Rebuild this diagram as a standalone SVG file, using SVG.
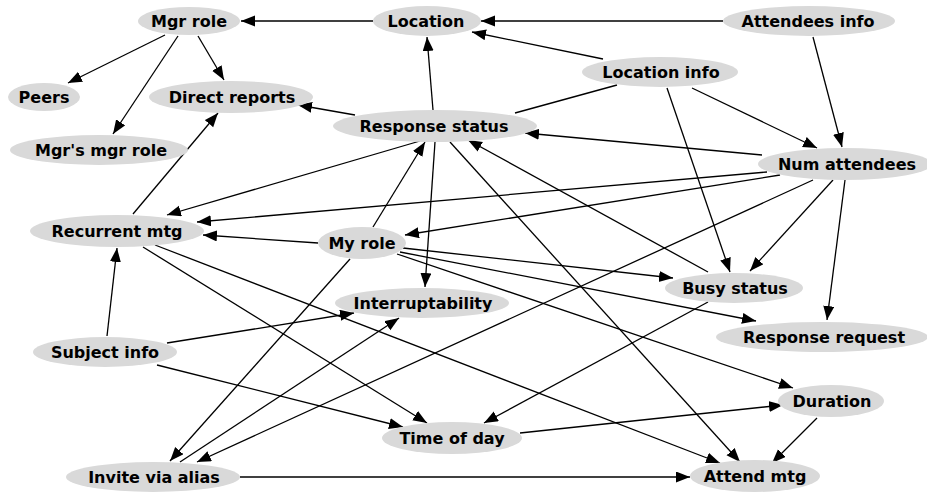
<svg xmlns="http://www.w3.org/2000/svg" width="927" height="493" viewBox="0 0 927 493">
<style>
.n ellipse{fill:#d9d9d9;stroke:none}
.n text{font-family:"DejaVu Sans",sans-serif;font-weight:bold;font-size:16px;fill:#000;text-anchor:middle}
.e line{stroke:#000;stroke-width:1.3;marker-end:url(#a)}
.e line.p{marker-end:none}
</style>
<defs>
<marker id="a" markerUnits="userSpaceOnUse" markerWidth="15" markerHeight="12" refX="14" refY="5.5" orient="auto">
<path d="M0,0 L14,5.5 L0,11 z" fill="#000"/>
</marker>
</defs>
<rect width="927" height="493" fill="#fff"/>
<g id="edges" class="e">
<line x1="373" y1="21" x2="241" y2="21"/>
<line x1="723" y1="21" x2="481" y2="21"/>
<line x1="603" y1="59" x2="472" y2="32"/>
<line x1="165" y1="35" x2="68" y2="83"/>
<line x1="178" y1="36" x2="113" y2="134"/>
<line x1="198" y1="36" x2="224" y2="80"/>
<line x1="355" y1="115" x2="298" y2="105"/>
<line x1="433" y1="110" x2="427" y2="37"/>
<line x1="133" y1="214" x2="218" y2="113"/>
<line class="p" x1="617" y1="85" x2="515" y2="113"/>
<line x1="692" y1="88" x2="817" y2="148"/>
<line x1="813" y1="37" x2="842" y2="147"/>
<line x1="667" y1="88" x2="730" y2="272"/>
<line x1="762" y1="155" x2="525" y2="133"/>
<line x1="708" y1="272" x2="468" y2="140"/>
<line x1="450" y1="142" x2="740" y2="462"/>
<line x1="435" y1="142" x2="425" y2="287"/>
<line x1="420" y1="141" x2="167" y2="215"/>
<line x1="767" y1="172" x2="197" y2="222"/>
<line x1="780" y1="175" x2="405" y2="235"/>
<line x1="373" y1="227" x2="425" y2="142"/>
<line x1="350" y1="259" x2="170" y2="461"/>
<line x1="180" y1="462" x2="399" y2="318"/>
<line x1="813" y1="180" x2="197" y2="462"/>
<line x1="833" y1="180" x2="750" y2="271"/>
<line x1="845" y1="180" x2="827" y2="320"/>
<line x1="318" y1="243" x2="203" y2="235"/>
<line x1="403" y1="248" x2="673" y2="278"/>
<line x1="400" y1="252" x2="756" y2="321"/>
<line x1="397" y1="254" x2="793" y2="388"/>
<line x1="143" y1="247" x2="427" y2="423"/>
<line x1="155" y1="245" x2="720" y2="463"/>
<line x1="107" y1="336" x2="117" y2="248"/>
<line x1="167" y1="343" x2="354" y2="313"/>
<line x1="157" y1="365" x2="403" y2="427"/>
<line x1="708" y1="302" x2="484" y2="423"/>
<line x1="520" y1="433" x2="783" y2="405"/>
<line x1="817" y1="418" x2="772" y2="463"/>
<line x1="240" y1="477" x2="690" y2="477"/>
</g>
<g id="mgr-role" class="n"><ellipse cx="189" cy="21" rx="51" ry="14"/><text x="189" y="27">Mgr role</text></g>
<g id="location" class="n"><ellipse cx="427" cy="21" rx="54" ry="15"/><text x="426" y="27">Location</text></g>
<g id="attendees-info" class="n"><ellipse cx="809" cy="21" rx="86" ry="15"/><text x="808" y="27">Attendees info</text></g>
<g id="location-info" class="n"><ellipse cx="660" cy="72" rx="78" ry="15"/><text x="661" y="78">Location info</text></g>
<g id="peers" class="n"><ellipse cx="44" cy="97" rx="36" ry="14"/><text x="44" y="103">Peers</text></g>
<g id="direct-reports" class="n"><ellipse cx="231" cy="97" rx="82" ry="16"/><text x="232" y="103">Direct reports</text></g>
<g id="mgrs-mgr-role" class="n"><ellipse cx="99" cy="150" rx="89" ry="15"/><text x="101" y="156">Mgr's mgr role</text></g>
<g id="response-status" class="n"><ellipse cx="435" cy="126" rx="102" ry="16"/><text x="434" y="132">Response status</text></g>
<g id="num-attendees" class="n"><ellipse cx="845" cy="164" rx="87" ry="16"/><text x="847" y="170">Num attendees</text></g>
<g id="recurrent-mtg" class="n"><ellipse cx="117" cy="231" rx="87" ry="16"/><text x="117" y="237">Recurrent mtg</text></g>
<g id="my-role" class="n"><ellipse cx="362" cy="243" rx="44" ry="16"/><text x="362" y="249">My role</text></g>
<g id="busy-status" class="n"><ellipse cx="734" cy="288" rx="69" ry="15"/><text x="735" y="294">Busy status</text></g>
<g id="interruptability" class="n"><ellipse cx="422" cy="303" rx="87" ry="15"/><text x="423" y="309">Interruptability</text></g>
<g id="response-request" class="n"><ellipse cx="822" cy="337" rx="106" ry="15"/><text x="824" y="343">Response request</text></g>
<g id="subject-info" class="n"><ellipse cx="105" cy="352" rx="72" ry="15"/><text x="105" y="358">Subject info</text></g>
<g id="duration" class="n"><ellipse cx="831" cy="401" rx="53" ry="16"/><text x="832" y="407">Duration</text></g>
<g id="time-of-day" class="n"><ellipse cx="452" cy="438" rx="70" ry="16"/><text x="452" y="444">Time of day</text></g>
<g id="invite-via-alias" class="n"><ellipse cx="153" cy="477" rx="87" ry="15"/><text x="154" y="483">Invite via alias</text></g>
<g id="attend-mtg" class="n"><ellipse cx="755" cy="476" rx="65" ry="16"/><text x="755" y="482">Attend mtg</text></g>
</svg>
